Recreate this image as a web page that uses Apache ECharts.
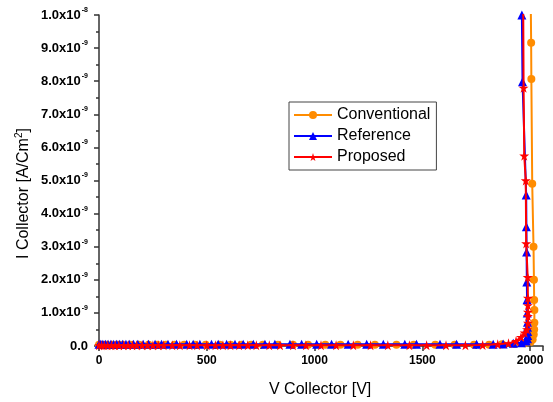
<!DOCTYPE html>
<html>
<head>
<meta charset="utf-8">
<script src="https://cdn.jsdelivr.net/npm/echarts@6/dist/echarts.min.js"></script>
<style>html,body{margin:0;padding:0;background:#fff}#c{width:553px;height:402px}</style>
</head>
<body>
<div id="c"></div>
<script>
// ---- Data ----
const seriesNames = ["Conventional", "Reference", "Proposed"];
const xTicks = [0, 500, 1000, 1500, 2000];

const convV = [0, 15, 35, 60, 85, 110, 145, 185, 230, 270, 310, 350, 395, 445, 495, 560, 610, 660, 705, 760, 830, 900, 970, 1050, 1120, 1200, 1280, 1380, 1460, 1560, 1650, 1740, 1810, 1870, 1930, 1975, 2002, 2012, 2017, 2019, 2020, 2020, 2019, 2018, 2016, 2010, 2006, 2005, 2003];
const convI = [4e-11, 4e-11, 4e-11, 4e-11, 4e-11, 4e-11, 4e-11, 4e-11, 4e-11, 4e-11, 4e-11, 4e-11, 4e-11, 4e-11, 4e-11, 4e-11, 4e-11, 4e-11, 4e-11, 4e-11, 4e-11, 4e-11, 4e-11, 4e-11, 4e-11, 4e-11, 4e-11, 4e-11, 4e-11, 4e-11, 4e-11, 4e-11, 4e-11, 5e-11, 6e-11, 8e-11, 1.2e-10, 2e-10, 3.5e-10, 5e-10, 7e-10, 1.09e-9, 1.39e-9, 2.0e-9, 3.0e-9, 4.9e-9, 8.07e-9, 9.16e-9, 1.05e-8];

const refV = [0, 8, 18, 30, 42, 55, 68, 82, 96, 110, 125, 140, 160, 180, 205, 230, 260, 290, 320, 360, 407, 437, 468, 522, 553, 592, 631, 669, 716, 770, 816, 886, 940, 1010, 1079, 1156, 1242, 1319, 1419, 1473, 1582, 1659, 1752, 1829, 1875, 1922, 1960, 1982, 1988, 1989, 1989, 1988, 1988, 1987, 1986, 1985, 1984, 1983, 1982, 1965, 1962, 1961];
const refI = [5e-11, 5e-11, 5e-11, 5e-11, 5e-11, 5e-11, 5e-11, 5e-11, 5e-11, 5e-11, 5e-11, 5e-11, 5e-11, 5e-11, 5e-11, 5e-11, 5e-11, 5e-11, 5e-11, 5e-11, 5e-11, 5e-11, 5e-11, 5e-11, 5e-11, 5e-11, 5e-11, 5e-11, 5e-11, 5e-11, 5e-11, 5e-11, 5e-11, 5e-11, 5e-11, 5e-11, 5e-11, 5e-11, 5e-11, 5e-11, 5e-11, 5e-11, 5e-11, 5e-11, 6e-11, 8e-11, 1e-10, 1.5e-10, 2.2e-10, 3.2e-10, 4.4e-10, 5.7e-10, 7.2e-10, 1.0e-9, 1.4e-9, 1.93e-9, 2.84e-9, 3.6e-9, 4.56e-9, 7.98e-9, 1.0e-8, 1.05e-8];

const propV = [0, 12, 25, 40, 58, 75, 92, 115, 135, 155, 175, 200, 225, 250, 275, 300, 340, 375, 420, 455, 500, 540, 575, 610, 650, 690, 730, 790, 840, 900, 960, 1030, 1100, 1180, 1260, 1340, 1440, 1520, 1610, 1700, 1780, 1850, 1900, 1935, 1958, 1975, 1986, 1990, 1990, 1990, 1990, 1990, 1989, 1982, 1980, 1973, 1970, 1968];
const propI = [2e-11, 2e-11, 2e-11, 2e-11, 2e-11, 2e-11, 2e-11, 2e-11, 2e-11, 2e-11, 2e-11, 2e-11, 2e-11, 2e-11, 2e-11, 2e-11, 2e-11, 2e-11, 2e-11, 2e-11, 2e-11, 2e-11, 2e-11, 2e-11, 2e-11, 2e-11, 2e-11, 2e-11, 2e-11, 2e-11, 2e-11, 2e-11, 2e-11, 2e-11, 2e-11, 2e-11, 2e-11, 2e-11, 2e-11, 2e-11, 3e-11, 5e-11, 8e-11, 1.5e-10, 2.7e-10, 4e-10, 5e-10, 7e-10, 9e-10, 1.03e-9, 1.23e-9, 1.45e-9, 2.08e-9, 3.1e-9, 5.0e-9, 5.75e-9, 7.8e-9, 1.05e-8];

function pairs(xs, ys) { return xs.map((x, i) => [x, ys[i]]).filter(p => p[1] !== undefined); }

const colors = ["#FF8C00", "#0000FF", "#FF0000"];
const symbols = ["circle", "triangle", "path://M50,0 L61,35 L98,35 L68,57 L79,91 L50,70 L21,91 L32,57 L2,35 L39,35 Z"];

function yFmt(v) {
  if (v === 0) return "{m|0.0}";
  const e = Math.floor(Math.log10(v) + 1e-9);
  const m = (v / Math.pow(10, e)).toFixed(1);
  return "{m|" + m + "x10}{s|" + e + "}";
}

const chart = echarts.init(document.getElementById("c"), null, { renderer: "canvas" });
const axisColor = "#333";
chart.setOption({
  animation: false,
  backgroundColor: "#fff",
  grid: { left: 99, right: 10, top: 15, bottom: 56 },
  xAxis: {
    type: "value", min: 0, max: 2060, interval: 500,
    axisLine: { show: true, onZero: false, lineStyle: { color: axisColor, width: 1.5 } },
    axisTick: { show: true, inside: false, length: 5, lineStyle: { color: axisColor, width: 1.5 } },
    minorTick: { show: true, splitNumber: 2, length: 3, lineStyle: { color: axisColor, width: 1.5 } },
    splitLine: { show: false },
    axisLabel: { color: "#000", fontFamily: "Liberation Sans, Arial", fontWeight: "bold", fontSize: 12, margin: 9,
      customValues: xTicks, formatter: v => String(v) },
  },
  yAxis: {
    type: "value", min: 0, max: 1e-8, interval: 1e-9,
    axisLine: { show: true, lineStyle: { color: axisColor, width: 1.5 } },
    axisTick: { show: true, inside: false, length: 5, lineStyle: { color: axisColor, width: 1.5 } },
    minorTick: { show: true, splitNumber: 2, length: 3, lineStyle: { color: axisColor, width: 1.5 } },
    splitLine: { show: false },
    axisLabel: {
      margin: 11, formatter: yFmt,
      rich: {
        m: { color: "#000", fontFamily: "Liberation Sans, Arial", fontWeight: "bold", fontSize: 13 },
        s: { color: "#000", fontFamily: "Liberation Sans, Arial", fontWeight: "bold", fontSize: 7, padding: [0, 0, 10, 1] }
      }
    }
  },
  legend: {
    orient: "vertical", left: 289, top: 102,
    width: 146,
    padding: [5, 6, 5, 4],
    borderColor: "#444", borderWidth: 1,
    itemWidth: 38, itemHeight: 10, itemGap: 5,
    textStyle: { color: "#000", fontFamily: "Liberation Sans, Arial", fontSize: 16, lineHeight: 16 },
    data: seriesNames
  },
  graphic: [
    { type: "text", left: 324 - 55, top: 382,
      style: { text: "V Collector [V]", font: "16px Liberation Sans, Arial", fill: "#000" } },
    { type: "text", x: 14, y: 259, rotation: Math.PI / 2,
      style: { text: "{a|I Collector [A/Cm}{s|2}{a|]}", rich: {
        a: { font: "16px Liberation Sans, Arial", fill: "#000" },
        s: { font: "10px Liberation Sans, Arial", fill: "#000", padding: [0, 0, 9, 0] } } } }
  ],
  series: [
    { name: seriesNames[0], type: "line", data: pairs(convV, convI), color: colors[0],
      symbol: symbols[0], symbolSize: 8, lineStyle: { width: 2 }, clip: true, z: 2 },
    { name: seriesNames[1], type: "line", data: pairs(refV, refI), color: colors[1],
      symbol: symbols[1], symbolSize: 9, lineStyle: { width: 2 }, clip: true, z: 3 },
    { name: seriesNames[2], type: "line", data: pairs(propV, propI), color: colors[2],
      symbol: symbols[2], symbolSize: 10, lineStyle: { width: 2 }, clip: true, z: 4 }
  ]
});
</script>
</body>
</html>
